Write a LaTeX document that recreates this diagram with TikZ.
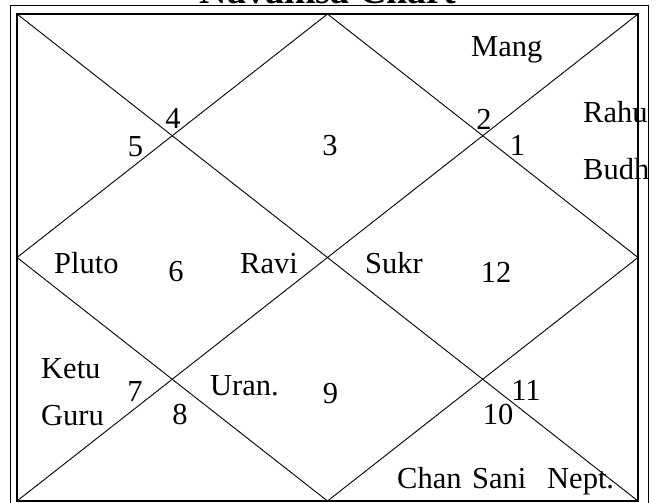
\documentclass[tikz,border=0pt]{standalone}
\usepackage{fontspec}
\setmainfont{Liberation Serif}

\begin{document}
\begin{tikzpicture}[
  x=1pt,y=-1pt,
  frame/.style={draw,line width=0.8pt},
  chart/.style={draw,line width=1.3pt},
  divider/.style={draw,line width=0.9pt},
  house/.style={inner sep=0pt,anchor=base,font=\fontsize{30.5}{31}\selectfont},
  graha/.style={inner sep=0pt,anchor=base west,font=\fontsize{30.5}{31}\selectfont},
  heading/.style={inner sep=0pt,anchor=base,font=\fontsize{38}{40}\selectfont\bfseries}
]
\useasboundingbox (0,0) rectangle (664,503);
\clip (0,0) rectangle (664,503);
% frame and title
\node[heading] (title) at (328,3.5) {Navamsa Chart};
\draw[frame] (10,5.7) rectangle (648,512);
\coordinate (tl) at (17,14);
\coordinate (tr) at (638,14);
\coordinate (br) at (638,501);
\coordinate (bl) at (17,501);
\coordinate (tm) at (327.5,14);
\coordinate (rm) at (638,257.5);
\coordinate (bm) at (327.5,501);
\coordinate (lm) at (17,257.5);
\draw[chart] (tl) rectangle (br);
\draw[divider] (tl) -- (br);
\draw[divider] (tr) -- (bl);
\draw[divider] (tm) -- (rm) -- (bm) -- (lm) -- cycle;
% house numbers
\node[house] (h1) at (517.5,155) {1};
\node[house] (h2) at (484,129) {2};
\node[house] (h3) at (330,155) {3};
\node[house] (h4) at (173,128) {4};
\node[house] (h5) at (135.5,156) {5};
\node[house] (h6) at (176,281) {6};
\node[house] (h7) at (135,401) {7};
\node[house] (h8) at (180,424) {8};
\node[house] (h9) at (330.5,403) {9};
\node[house] (h10) at (498,424) {10};
\node[house] (h11) at (526,400) {11};
\node[house] (h12) at (496,282) {12};
% planets
\node[graha] (mang) at (471,57) {Mang};
\node[graha] (rahu) at (583,122) {Rahu};
\node[graha] (budh) at (583,179) {Budh};
\node[graha] (pluto) at (54,273) {Pluto};
\node[graha] (ravi) at (240,273) {Ravi};
\node[graha] (sukr) at (365,273) {Sukr};
\node[graha] (ketu) at (41,378) {Ketu};
\node[graha] (guru) at (41,425) {Guru};
\node[graha] (uran) at (210,395) {Uran.};
\node[graha] (chan) at (397,488) {Chan};
\node[graha] (sani) at (472,488) {Sani};
\node[graha] (nept) at (547,488) {Nept.};
\end{tikzpicture}
\end{document}
